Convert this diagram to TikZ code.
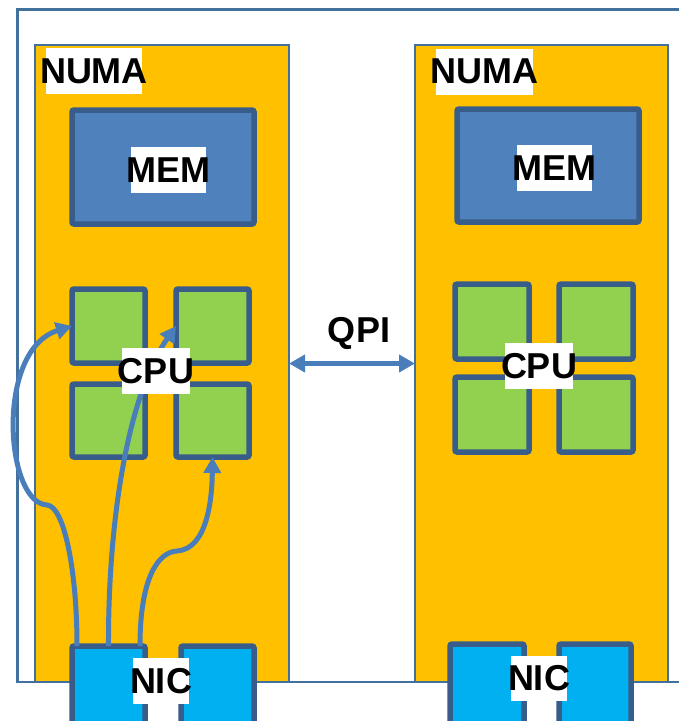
\documentclass[tikz,border=0pt]{standalone}
\usepackage{fontspec}
\setmainfont{Liberation Sans}
\usetikzlibrary{arrows.meta}
\definecolor{numafill}{HTML}{FFC000}
\definecolor{numaline}{HTML}{41719C}
\definecolor{memfill}{HTML}{4F81BD}
\definecolor{darkline}{HTML}{385D8A}
\definecolor{cpufill}{HTML}{92D050}
\definecolor{nicfill}{HTML}{00B0F0}
\definecolor{arrcol}{HTML}{4A7EBB}
\begin{document}
\begin{tikzpicture}[x=1pt,y=-1pt,
  frame/.style={draw=numaline, line width=2.2pt, inner sep=0pt, outer sep=0pt},
  numabox/.style={draw=numaline, fill=numafill, line width=2.2pt, inner sep=0pt, outer sep=0pt},
  membox/.style={draw=darkline, fill=memfill, line width=5.5pt, rounded corners=2pt, inner sep=0pt, outer sep=0pt},
  cpubox/.style={draw=darkline, fill=cpufill, line width=5.5pt, rounded corners=2pt, inner sep=0pt, outer sep=0pt},
  nicbox/.style={draw=darkline, fill=nicfill, line width=5.5pt, rounded corners=2pt, inner sep=0pt, outer sep=0pt},
  lbl/.style={fill=white, inner sep=0pt, minimum height=46pt, font=\bfseries\fontsize{36pt}{36pt}\selectfont},
  plainlbl/.style={inner sep=0pt, font=\bfseries\fontsize{36pt}{36pt}\selectfont},
  flow/.style={draw=arrcol, line width=5pt, -{Triangle[length=16pt,width=17pt]}},
  link/.style={draw=arrcol, line width=4.5pt, {Triangle[length=16pt,width=17pt]}-{Triangle[length=16pt,width=17pt]}}
]
\useasboundingbox (0,0) rectangle (679,721);
\fill[white] (0,0) rectangle (679,721);

% outer frame
\node[frame, minimum width=682.5pt, minimum height=672.5pt] (outer) at (358.75,345.75) {};

% NUMA domains
\node[numabox, minimum width=254pt, minimum height=637pt] (numaL) at (162,363.5) {};
\node[numabox, minimum width=253pt, minimum height=637pt] (numaR) at (541.5,363.5) {};

% NICs
\node[nicbox, minimum width=73pt, minimum height=94pt] (nicL1) at (108.5,693) {};
\node[nicbox, minimum width=73pt, minimum height=94pt] (nicL2) at (217.5,693) {};
\node[nicbox, minimum width=74pt, minimum height=96pt] (nicR1) at (487,692) {};
\node[nicbox, minimum width=72pt, minimum height=96pt] (nicR2) at (595,692) {};

% memory
\node[membox, minimum width=182pt, minimum height=114pt] (memL) at (163,167) {};
\node[membox, minimum width=182pt, minimum height=113pt] (memR) at (548,165.5) {};

% CPU cores
\node[cpubox, minimum width=73pt, minimum height=74pt] (cpuL1) at (108.5,326) {};
\node[cpubox, minimum width=73pt, minimum height=74pt] (cpuL2) at (212.5,326) {};
\node[cpubox, minimum width=73pt, minimum height=73pt] (cpuL3) at (108.5,420.5) {};
\node[cpubox, minimum width=73pt, minimum height=73pt] (cpuL4) at (212.5,420.5) {};
\node[cpubox, minimum width=74pt, minimum height=75pt] (cpuR1) at (492,321.5) {};
\node[cpubox, minimum width=74pt, minimum height=75pt] (cpuR2) at (596,321.5) {};
\node[cpubox, minimum width=74pt, minimum height=75pt] (cpuR3) at (492,414.5) {};
\node[cpubox, minimum width=74pt, minimum height=75pt] (cpuR4) at (596,414.5) {};

% flows NIC -> CPU
\draw[flow] ([xshift=5pt]nicL1.north west) .. controls (77,570) and (64,506) .. (47,505)
   .. controls (5,503) and (-5,350) .. (cpuL1.west);
\draw[flow] (nicL1.north) .. controls (108,520) and (128,395) .. (cpuL2.west);
\draw[flow] ([xshift=-5pt]nicL1.north east) .. controls (140,578) and (158,552) .. (177,551)
   .. controls (207,549) and (212,500) .. (cpuL4.south);

% QPI link
\draw[link] (numaL.east) -- (numaR.west);
\node[plainlbl] (qpi) at (359,333) {QPI};

% labels
\node[lbl, minimum width=96pt] (tNumaL) at (94,71) {\makebox[0pt]{NUMA}};
\node[lbl, minimum width=97pt] (tNumaR) at (484.5,71.5) {\makebox[0pt]{NUMA}};
\node[lbl, minimum width=75pt] (tMemL) at (168.5,170) {\makebox[0pt]{MEM}};
\node[lbl, minimum width=75pt] (tMemR) at (554.5,168) {\makebox[0pt]{MEM}};
\node[lbl, minimum width=68pt] (tCpuL) at (156,371) {\makebox[0pt]{CPU}};
\node[lbl, minimum width=68pt] (tCpuR) at (539,366) {\makebox[0pt]{CPU}};
\node[lbl, minimum width=56pt] (tNicL) at (161,681) {\makebox[0pt]{NIC}};
\node[lbl, minimum width=56pt, minimum height=45pt] (tNicR) at (539,678.5) {\makebox[0pt]{NIC}};
\end{tikzpicture}
\end{document}
